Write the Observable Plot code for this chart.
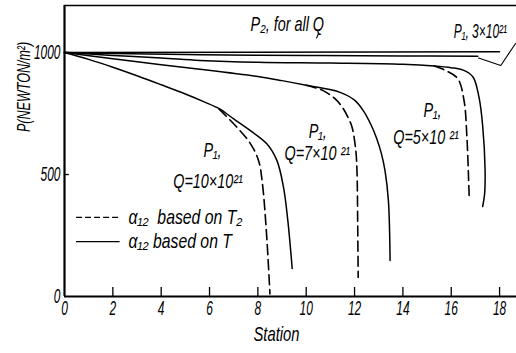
<!DOCTYPE html>
<html>
<head>
<meta charset="utf-8">
<script src="https://cdn.jsdelivr.net/npm/d3@7"></script>
<script src="https://cdn.jsdelivr.net/npm/@observablehq/plot@0.6"></script>
<style>
  html, body { margin: 0; padding: 0; background: white; }
</style>
</head>
<body>
<div id="chart"></div>
<script>
// ---- data ----
const xTicks = [0, 2, 4, 6, 8, 10, 12, 14, 16, 18];
const yTicks = [0, 500, 1000];

const p2Station = [0, 18];
const p2Value = [1000, 1003];

const q3Station = [0, 2, 5.6, 10, 14, 17.1];
const q3Value = [1000, 996, 991, 988, 986, 985];

const q5SolidStation = [0, 2, 4, 5.6, 8, 11, 14, 15.3, 16.0, 16.5, 16.9, 17.15, 17.3, 17.4, 17.38, 17.3];
const q5SolidValue = [1000, 988, 978, 968, 960, 957, 952, 945, 938, 928, 900, 816, 700, 520, 420, 369];
const q5DashStation = [15.3, 15.8, 16.27, 16.53, 16.65, 16.72, 16.74];
const q5DashValue = [945, 925, 893, 803, 650, 475, 414];

const q7SolidStation = [0, 2, 4, 5.6, 8, 9, 10, 11.4, 12.0, 12.36, 12.7, 12.9, 13.1, 13.26, 13.4, 13.47];
const q7SolidValue = [1000, 975, 950, 932, 902, 885, 866, 837, 805, 762, 700, 652, 590, 516, 393, 148];
const q7DashStation = [10, 10.7, 11.2, 11.5, 11.75, 11.9, 12.05, 12.1, 12.13, 12.15];
const q7DashValue = [866, 844, 810, 775, 730, 693, 600, 516, 300, 78];

const q10SolidStation = [0, 1, 2, 3, 4, 5, 5.8, 6.4, 7.0, 7.69, 8.37, 8.79, 9.06, 9.24, 9.42];
const q10SolidValue = [1000, 972, 940, 905, 868, 830, 797, 770, 728, 680, 626, 557, 448, 311, 115];
const q10DashStation = [6.4, 7.13, 7.69, 8.03, 8.18, 8.35, 8.5];
const q10DashValue = [768, 694, 627, 557, 470, 270, 10];

const legendLabels = ["α₁₂  based on T₂", "α₁₂ based on T"];

// ---- build tables ----
const zip = (xs, ys) => xs.map((x, i) => ({x, y: ys[i]}));
const solidSeries = [
  zip(p2Station, p2Value),
  zip(q3Station, q3Value),
  zip(q5SolidStation, q5SolidValue),
  zip(q7SolidStation, q7SolidValue),
  zip(q10SolidStation, q10SolidValue)
];
const dashSeries = [
  zip(q5DashStation, q5DashValue),
  zip(q7DashStation, q7DashValue),
  zip(q10DashStation, q10DashValue)
];

// annotations (data coordinates)
const notes = [
  {x: 7.7, y: 1115, t: "P₂, for all Q"},
  {x: 5.75, y: 598, t: "P₁,"},
  {x: 4.5, y: 470, t: "Q=10×10²¹"},
  {x: 10.1, y: 676, t: "P₁,"},
  {x: 9.1, y: 586, t: "Q=7×10 ²¹"},
  {x: 14.85, y: 762, t: "P₁,"},
  {x: 13.6, y: 652, t: "Q=5×10 ²¹"}
];
const cornerNote = [{x: 16.1, y: 1085, t: "P₁, 3×10²¹"}];
const bracket = [{x: 17.13, y: 978}, {x: 18.05, y: 947}, {x: 18.66, y: 1037}];
const leader = [{x: 10.43, y: 1060}, {x: 10.51, y: 1078}];
const legendRows = [
  {x1: 0.5, x2: 2.3, y: 324, dash: "6,3", label: legendLabels[0]},
  {x1: 0.5, x2: 2.3, y: 225, dash: null, label: legendLabels[1]}
];

const yMax = 1193, xMax = 18.7;
const font = "'Liberation Sans', 'DejaVu Sans', sans-serif";

const marks = [
  Plot.ruleX([0], {stroke: "black", strokeWidth: 2.2}),
  Plot.ruleY([0], {stroke: "black", strokeWidth: 2.2}),
  Plot.ruleY([yMax], {stroke: "black", strokeWidth: 1.6}),
  Plot.ruleX(xTicks.slice(1), {x: d => d, y1: 0, y2: 37, stroke: "black", strokeWidth: 1.3}),
  Plot.ruleY(yTicks.slice(1), {y: d => d, x1: 0, x2: 0.2, stroke: "black", strokeWidth: 1.3}),
  Plot.axisX(xTicks, {label: null, tickSize: 0, tickPadding: 4, fontSize: 21, tickFormat: d => String(d)}),
  Plot.axisY(yTicks, {label: null, tickSize: 0, tickPadding: 4, fontSize: 21, tickFormat: d => String(d)}),
  ...solidSeries.map(s => Plot.line(s, {x: "x", y: "y", stroke: "black", strokeWidth: 1.5, curve: "catmull-rom"})),
  ...dashSeries.map(s => Plot.line(s, {x: "x", y: "y", stroke: "black", strokeWidth: 1.6, strokeDasharray: "10,5", curve: "catmull-rom"})),
  Plot.line(bracket, {x: "x", y: "y", stroke: "black", strokeWidth: 1.1}),
  Plot.line(leader, {x: "x", y: "y", stroke: "black", strokeWidth: 1.1}),
  Plot.text(notes, {x: "x", y: "y", text: "t", textAnchor: "start", fontSize: 20, ariaLabel: () => "sq-notes"}),
  Plot.text(cornerNote, {x: "x", y: "y", text: "t", textAnchor: "start", fontSize: 20, ariaLabel: () => "sq-corner"}),
  ...legendRows.map(r => Plot.ruleY([r], {x1: "x1", x2: "x2", y: "y", stroke: "black", strokeWidth: 1.3, strokeDasharray: r.dash})),
  Plot.text(legendRows, {x: 2.65, y: "y", text: "label", textAnchor: "start", fontSize: 20, ariaLabel: () => "sq-legend"}),
  Plot.text(["P(NEWTON/m²)"], {frameAnchor: "left", rotate: -90, dx: -41, dy: -19, fontSize: 19, ariaLabel: () => "sq-ylabel"}),
  Plot.text(["Station"], {frameAnchor: "bottom", dx: -14, dy: 44, fontSize: 20, ariaLabel: () => "sq-xlabel"})
];

const chart = Plot.plot({
  width: 516,
  height: 353,
  marginLeft: 64,
  marginRight: 0,
  marginTop: 5,
  marginBottom: 57,
  x: {domain: [0, xMax], axis: null},
  y: {domain: [0, yMax], axis: null},
  style: {fontFamily: font, fontStyle: "italic", background: "white", color: "black", overflow: "visible"},
  marks
});

// condense the lettering like the original's narrow italic type
const squeeze = {
  "x-axis tick label": 0.57, "y-axis tick label": 0.57,
  "sq-notes": 0.72, "sq-corner": 0.6, "sq-legend": 0.79, "sq-ylabel": 0.66, "sq-xlabel": 0.74
};
const done = new Set();
const squash = (t, sx) => {
  if (done.has(t)) return;
  done.add(t);
  const tr = t.getAttribute("transform") || "";
  t.setAttribute("transform", tr + ` scale(${sx},1)`);
  if (t.hasAttribute("x")) t.setAttribute("x", +t.getAttribute("x") / sx);
};
chart.querySelectorAll("[aria-label]").forEach(el => {
  const sx = squeeze[el.getAttribute("aria-label")];
  if (!sx) return;
  if (el.tagName.toLowerCase() === "text") squash(el, sx);
  else el.querySelectorAll("text").forEach(t => squash(t, sx));
});
document.getElementById("chart").appendChild(chart);
</script>
</body>
</html>
